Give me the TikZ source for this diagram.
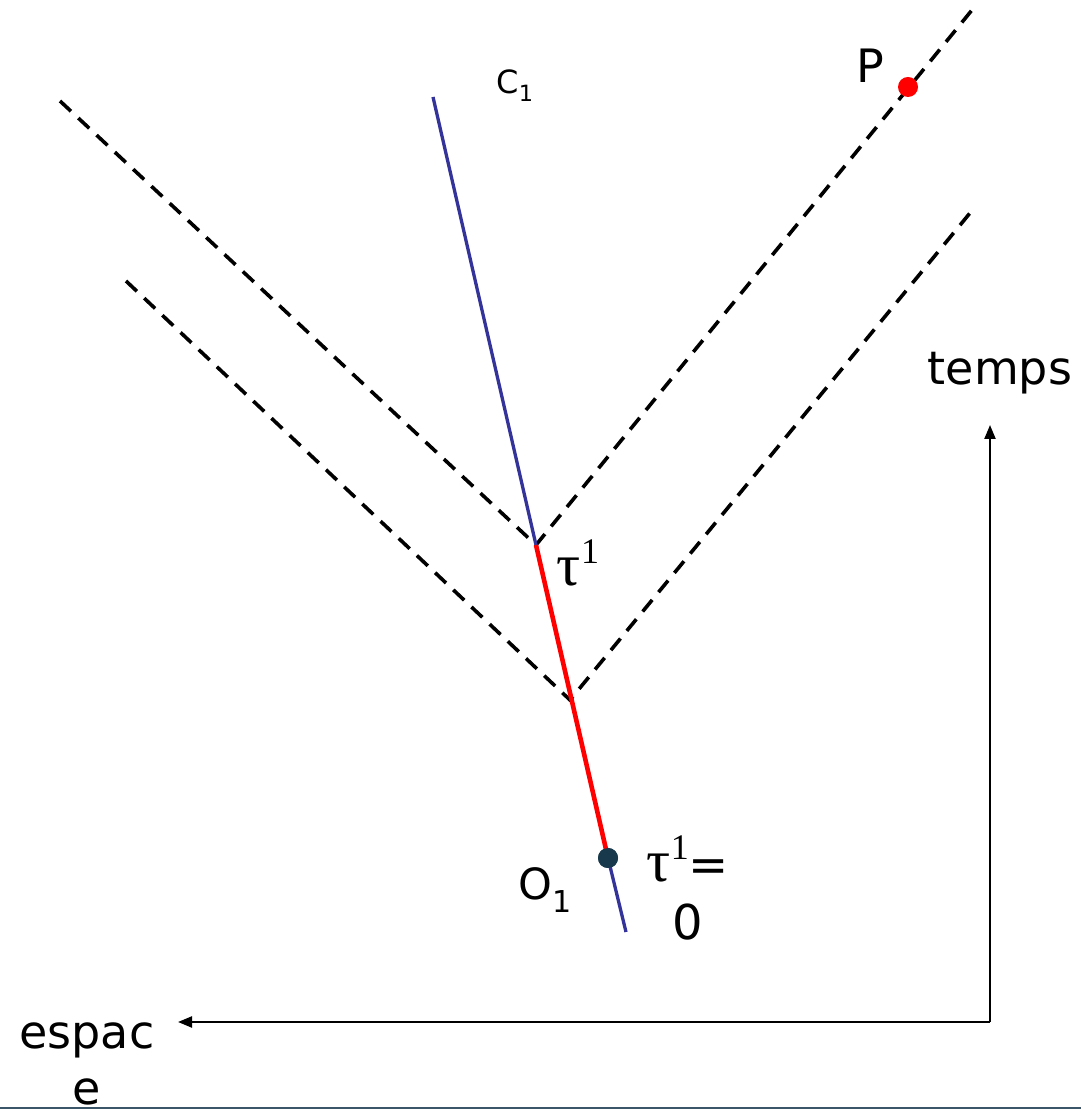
\documentclass[tikz,border=0pt]{standalone}
\usepackage{fontspec}
\setmainfont{DejaVu Sans}
\newfontfamily\greekfont{Liberation Serif}
\usepackage{xcolor}
\usepackage{tikz}
\usetikzlibrary{arrows.meta, positioning, calc}
\definecolor{LineBlue}{RGB}{51, 51, 153}
\definecolor{LineRed}{RGB}{255, 0, 0}
\definecolor{DotSlate}{RGB}{23, 57, 75}
\definecolor{RuleSlate}{RGB}{59, 86, 104}
\tikzset{
  cone/.style={black, line width=3.6pt, dash pattern=on 15pt off 10pt},
  wline/.style={LineBlue, line width=3.3pt},
  proper/.style={LineRed, line width=4.6pt},
  axis/.style={black, line width=2.2pt, -{Triangle[length=14pt,width=11pt]}},
  evdot/.style={circle, inner sep=0pt, minimum size=20pt},
  lbl/.style={inner sep=0pt, align=center}
}
\newcommand{\tauone}{{\greekfont\fontsize{60}{60}\selectfont τ\raisebox{0.36em}{\fontsize{36}{36}\selectfont 1}}}

\begin{document}
\begin{tikzpicture}[x=1pt,y=1pt]
  \path[use as bounding box] (0,0) rectangle (1081,1109);
  \fill[white] (0,0) rectangle (1081,1109);
  \draw[RuleSlate, line width=2.5pt] (0,1) -- (1081,1);

  % world line of C1
  \coordinate (wtop) at (433,1012);
  \coordinate (ev1) at (536,564);
  \coordinate (ev2) at (570,409);
  \coordinate (wbot) at (626,177);
  \node[evdot, fill=DotSlate] (o1) at (608,251) {};

  % light cones
  \coordinate (ul) at (60,1008);
  \coordinate (ur) at (972,1099);
  \coordinate (ll) at (126,828);
  \coordinate (lr) at (970,896);
  \draw[cone] (ul) -- (ev1) -- (ur);
  \draw[cone] (ll) -- (ev2) -- (lr);

  \draw[wline] (wtop) -- (ev1);
  \draw[proper] (ev1) -- (o1.center);
  \draw[wline] (o1.center) -- (wbot);
  \node[evdot, fill=DotSlate] at (o1) {};

  \node[evdot, fill=LineRed] (p) at (908,1022) {};

  % axes
  \coordinate (orig) at (990,87);
  \coordinate (tup) at (990,684);
  \coordinate (xleft) at (178,87);
  \draw[axis] (orig) -- (tup);
  \draw[axis] (orig) -- (xleft);

  % labels
  \node[lbl, font=\fontsize{32}{36}\selectfont] (c1lbl) at (515,1023) {C\textsubscript{1}};
  \node[lbl, font=\fontsize{46}{52}\selectfont] (plbl) at (870,1043) {P};
  \node[lbl] (ev1lbl) at (578,546) {\tauone};
  \node[lbl, font=\fontsize{48}{58}\selectfont] (o1tau) at (688,221) {\tauone=\\0};
  \node[lbl, font=\fontsize{43}{50}\selectfont] (o1lbl) at (545,219) {O\textsubscript{1}};
  \node[lbl, font=\fontsize{46}{52}\selectfont] (tlbl) at (1000,736) {temps};
  \node[lbl, font=\fontsize{46}{56}\selectfont] (xlbl) at (87,45) {espac\\e};
\end{tikzpicture}
\end{document}
